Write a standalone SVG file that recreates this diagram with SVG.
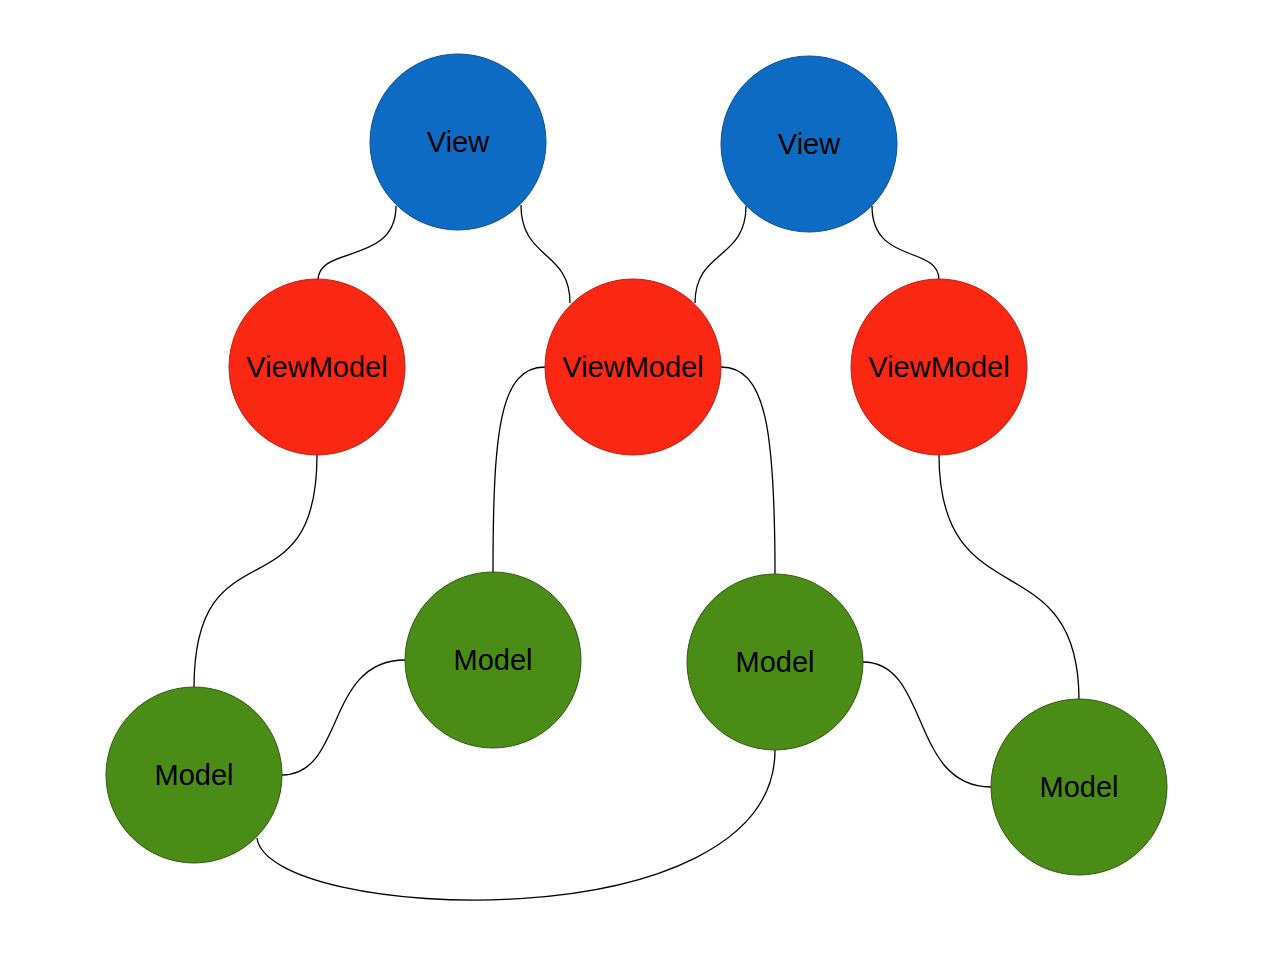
<svg xmlns="http://www.w3.org/2000/svg" width="1265" height="978" viewBox="0 0 1265 978">
<style>
.view{fill:#0E6BC4;stroke:#0B4F8F;stroke-width:1}
.vm{fill:#FA2713;stroke:#C01E0E;stroke-width:1}
.model{fill:#4A8C16;stroke:#2F5A0E;stroke-width:1}
.lbl{font-family:"Liberation Sans",Arial,sans-serif;font-size:29px;fill:#000;text-anchor:middle}
.edge{fill:none;stroke:#000;stroke-width:1.3}
</style>
<rect width="1265" height="978" fill="#fff"/>
<g id="connectors">
<path class="edge" d="M396,206 C396,265 318,245 318,280"/>
<path class="edge" d="M521,205 C521,260 570,250 570,303"/>
<path class="edge" d="M746,206 C746,260 695,250 695,303"/>
<path class="edge" d="M872,206 C872,265 939,245 939,280"/>
<path class="edge" d="M317,455 C317,620 194,520 194,688"/>
<path class="edge" d="M545,367 C500,367 493,430 493,573"/>
<path class="edge" d="M721,367 C766,367 775,430 775,575"/>
<path class="edge" d="M939,455 C939,620 1079,540 1079,700"/>
<path class="edge" d="M282,775 C345,775 325,660 405,660"/>
<path class="edge" d="M863,662 C930,662 910,787 991,787"/>
<path class="edge" d="M257,838 C268,922 775,945 775,750"/>
</g>
<g id="view1"><circle class="view" cx="458" cy="142" r="88"/><text class="lbl" x="458" y="152">View</text></g>
<g id="view2"><circle class="view" cx="809" cy="144" r="88"/><text class="lbl" x="809" y="154">View</text></g>
<g id="viewmodel1"><circle class="vm" cx="317" cy="367" r="88"/><text class="lbl" x="317" y="377">ViewModel</text></g>
<g id="viewmodel2"><circle class="vm" cx="633" cy="367" r="88"/><text class="lbl" x="633" y="377">ViewModel</text></g>
<g id="viewmodel3"><circle class="vm" cx="939" cy="367" r="88"/><text class="lbl" x="939" y="377">ViewModel</text></g>
<g id="model1"><circle class="model" cx="194" cy="775" r="88"/><text class="lbl" x="194" y="785">Model</text></g>
<g id="model2"><circle class="model" cx="493" cy="660" r="88"/><text class="lbl" x="493" y="670">Model</text></g>
<g id="model3"><circle class="model" cx="775" cy="662" r="88"/><text class="lbl" x="775" y="672">Model</text></g>
<g id="model4"><circle class="model" cx="1079" cy="787" r="88"/><text class="lbl" x="1079" y="797">Model</text></g>
</svg>
